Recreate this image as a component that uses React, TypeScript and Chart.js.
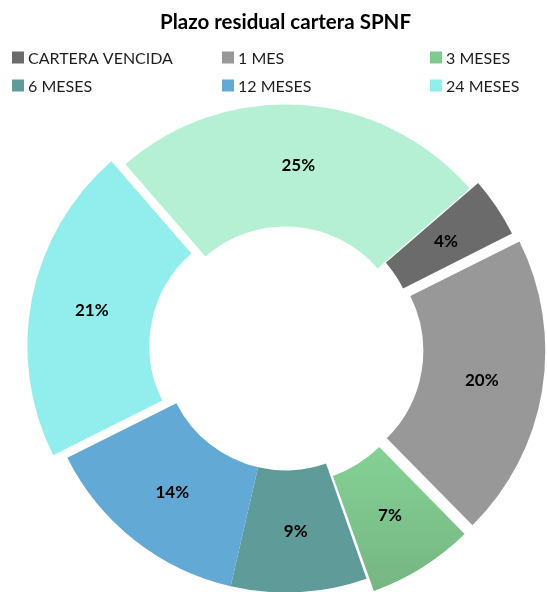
import React, { useEffect, useRef } from "react";
import { Chart, registerables } from "chart.js";

Chart.register(...registerables);

const TITLE = "Plazo residual cartera SPNF";
const CATEGORIES = [
  "CARTERA VENCIDA",
  "1 MES",
  "3 MESES",
  "6 MESES",
  "12 MESES",
  "24 MESES",
  "MÁS DE 24 MESES",
];
const SHARES = [4, 20, 7, 9, 14, 21, 25];
const COLORS = ["#6b6b6b", "#989898", "#7fca8e", "#5e9b99", "#62a9d6", "#91eeec", "#b5f0d5"];
const LEGEND_SHOWN = 6;

const FONT = "Lato, 'Open Sans', sans-serif";

const sliceLabels = {
  id: "sliceLabels",
  afterDatasetsDraw(chart: any) {
    const meta = chart.getDatasetMeta(0);
    const data: number[] = chart.data.datasets[0].data;
    const total = data.reduce((a, b) => a + b, 0);
    const ctx = chart.ctx;
    ctx.save();
    ctx.font = `bold 17px ${FONT}`;
    ctx.fillStyle = "#000";
    ctx.textAlign = "center";
    ctx.textBaseline = "middle";
    meta.data.forEach((arc: any, i: number) => {
      const p = arc.getProps(["x", "y", "startAngle", "endAngle", "innerRadius", "outerRadius"], true);
      const off = (arc.options.offset || 0) / 4;
      const circ = p.endAngle - p.startAngle;
      const fix = 1 - Math.sin(Math.min(Math.PI, circ));
      const mid = (p.startAngle + p.endAngle) / 2;
      const r = (p.innerRadius + p.outerRadius) / 2 + off * (1 + fix);
      const txt = Math.round((data[i] / total) * 100) + "%";
      ctx.fillText(txt, p.x + Math.cos(mid) * r, p.y + Math.sin(mid) * r);
    });
    ctx.restore();
  },
};

const gridLegend = {
  id: "gridLegend",
  afterDraw(chart: any) {
    const ctx = chart.ctx;
    const labels: string[] = chart.data.labels;
    const colX = [12, 222, 430];
    const rowY = [57.5, 85.5];
    ctx.save();
    ctx.font = `16px ${FONT}`;
    ctx.textAlign = "left";
    ctx.textBaseline = "middle";
    for (let i = 0; i < Math.min(LEGEND_SHOWN, labels.length); i++) {
      const x = colX[i % 3];
      const y = rowY[Math.floor(i / 3)];
      ctx.fillStyle = COLORS[i];
      ctx.fillRect(x, y - 6, 12, 12);
      ctx.fillStyle = "#1e1e1e";
      ctx.fillText(labels[i], x + 16, y + 1);
    }
    ctx.restore();
  },
};

function sliceColor(c: any) {
  const i = c.dataIndex;
  const base = COLORS[i];
  const area = c.chart.chartArea;
  if (i !== 2 || !area) return base;
  const cy = (area.top + area.bottom) / 2;
  const g = c.chart.ctx.createLinearGradient(0, cy + 95, 0, cy + 250);
  g.addColorStop(0, "#84d194");
  g.addColorStop(1, "#74b281");
  return g;
}

export default function App() {
  const ref = useRef<HTMLCanvasElement | null>(null);

  useEffect(() => {
    document.body.style.margin = "0";
    document.body.style.overflow = "hidden";
    const canvas = ref.current;
    if (!canvas) return;
    const chart = new Chart(canvas, {
      type: "doughnut",
      data: {
        labels: CATEGORIES,
        datasets: [
          {
            data: SHARES,
            backgroundColor: sliceColor,
            borderWidth: 0,
            offset: [23, 61, 36, 0, 0, 56, 0],
            clip: false as any,
          } as any,
        ],
      },
      options: {
        responsive: false,
        animation: false,
        devicePixelRatio: 1,
        events: [],
        rotation: 49,
        cutout: "50%",
        radius: 244,
        layout: { padding: { left: 24, right: 0, top: 0, bottom: 0 } },
        plugins: {
          legend: { display: false },
          tooltip: { enabled: false },
          title: {
            display: true,
            text: TITLE,
            color: "#000",
            font: { family: FONT, size: 20.5, weight: "bold", lineHeight: 1.2 },
            padding: { top: 10, bottom: 70.4 },
          },
        },
      } as any,
      plugins: [sliceLabels, gridLegend],
    });
    return () => chart.destroy();
  }, []);

  return (
    <div style={{ width: 547, height: 592 }}>
      <canvas ref={ref} width={547} height={592} style={{ display: "block" }} />
    </div>
  );
}
